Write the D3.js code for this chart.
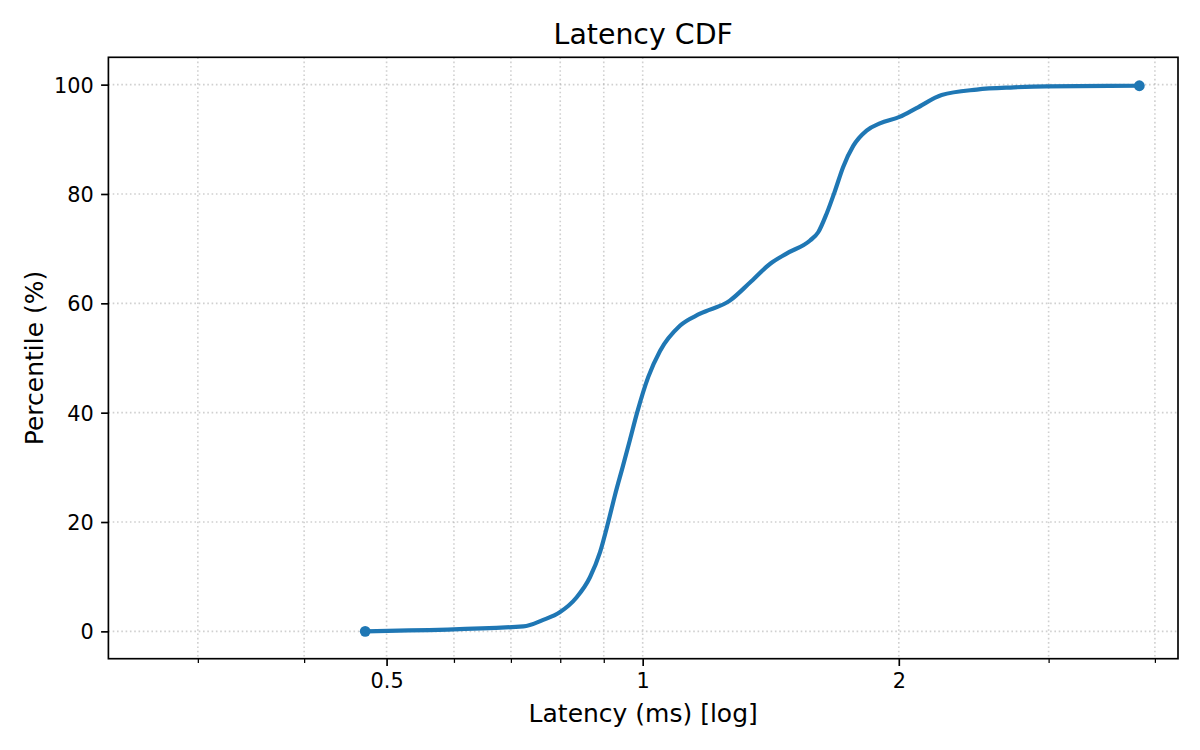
<!DOCTYPE html>
<html>
<head>
<meta charset="utf-8">
<script src="https://cdn.jsdelivr.net/npm/d3@7"></script>
<style>
  html, body { margin: 0; padding: 0; background: #fff; }
  svg { display: block; font-family: "DejaVu Sans", sans-serif; }
</style>
</head>
<body>
<svg id="chart" width="1200" height="750"></svg>
<script>
// Data: latency (ms) vs percentile (%)
const latencyMs = [0.4719, 0.724, 0.764, 0.799, 0.836, 0.867, 0.891, 0.911, 0.928, 0.947, 0.966,
  0.985, 1.015, 1.048, 1.106, 1.168, 1.266, 1.337, 1.411, 1.476, 1.573, 1.608, 1.645, 1.683,
  1.720, 1.768, 1.833, 1.900, 2.004, 2.098, 2.246, 2.47, 2.73, 2.985, 3.835];
const percentile = [0, 0.9, 2.1, 3.5, 6.2, 9.9, 14.5, 20.0, 25.0, 30.0, 35.0,
  40.0, 46.5, 51.3, 55.9, 58.1, 60.5, 63.8, 67.2, 69.1, 71.5, 73.0, 76.4, 80.6,
  84.9, 88.8, 91.6, 92.9, 94.1, 95.7, 98.1, 99.1, 99.5, 99.7, 99.8];
const xMajorTicks = [0.5, 1, 2];
const xMinorTicks = [0.3, 0.4, 0.6, 0.7, 0.8, 0.9, 3, 4];
const yTicks = [0, 20, 40, 60, 80, 100];
const xDomain = [0.2355, 4.258];
const yDomain = [-5, 105];

const title = "Latency CDF";
const xLabel = "Latency (ms) [log]";
const yLabel = "Percentile (%)";

const svg = d3.select("#chart");
const L = 108.4, R = 1178, T = 57.3, B = 658.7;
const W = R - L, H = B - T;

const x = d3.scaleLog().domain(xDomain).range([L, R]);
const y = d3.scaleLinear().domain(yDomain).range([B, T]);

const data = latencyMs.map((v, i) => ({ x: v, y: percentile[i] }));

// grid
const gridStyle = g => g.attr("stroke", "#b0b0b0").attr("stroke-opacity", 0.6)
  .attr("stroke-width", 1.6).attr("stroke-dasharray", "1.6,2.7").attr("fill", "none");
const grid = svg.append("g");
grid.selectAll("line.vx").data(xMajorTicks.concat(xMinorTicks)).join("line")
  .attr("class", "vx")
  .attr("x1", d => x(d)).attr("x2", d => x(d)).attr("y1", T).attr("y2", B)
  .call(gridStyle);
grid.selectAll("line.hy").data(yTicks).join("line")
  .attr("class", "hy")
  .attr("x1", L).attr("x2", R).attr("y1", d => y(d)).attr("y2", d => y(d))
  .call(gridStyle);

// line
const line = d3.line().x(d => x(d.x)).y(d => y(d.y)).curve(d3.curveMonotoneX);
svg.append("path").datum(data)
  .attr("d", line)
  .attr("fill", "none")
  .attr("stroke", "#1f77b4")
  .attr("stroke-width", 4.2)
  .attr("stroke-linejoin", "round")
  .attr("stroke-linecap", "butt");

// end markers
svg.selectAll("circle.end").data([data[0], data[data.length - 1]]).join("circle")
  .attr("class", "end")
  .attr("cx", d => x(d.x)).attr("cy", d => y(d.y)).attr("r", 5.4)
  .attr("fill", "#1f77b4");

// axes
const xAxis = d3.axisBottom(x).tickValues(xMajorTicks).tickFormat(d3.format("~g"))
  .tickSize(7.3).tickPadding(7.3);
const gx = svg.append("g").attr("transform", `translate(0,${B})`).call(xAxis);
gx.select(".domain").remove();
gx.selectAll(".tick line").attr("stroke", "#000").attr("stroke-width", 1.67);
gx.selectAll(".tick text").attr("font-size", 20.8).attr("fill", "#000")
  .attr("font-family", "DejaVu Sans");

const xAxisMinor = d3.axisBottom(x).tickValues(xMinorTicks).tickFormat("")
  .tickSize(4.2);
const gxm = svg.append("g").attr("transform", `translate(0,${B})`).call(xAxisMinor);
gxm.select(".domain").remove();
gxm.selectAll(".tick line").attr("stroke", "#000").attr("stroke-width", 1.25);

const yAxis = d3.axisLeft(y).tickValues(yTicks).tickSize(7.3).tickPadding(7.3);
const gy = svg.append("g").attr("transform", `translate(${L},0)`).call(yAxis);
gy.select(".domain").remove();
gy.selectAll(".tick line").attr("stroke", "#000").attr("stroke-width", 1.67);
gy.selectAll(".tick text").attr("font-size", 20.8).attr("fill", "#000")
  .attr("font-family", "DejaVu Sans").attr("dy", "0.36em");

// frame
svg.append("rect").attr("x", L).attr("y", T).attr("width", W).attr("height", H)
  .attr("fill", "none").attr("stroke", "#000").attr("stroke-width", 1.67)
  .attr("stroke-linejoin", "miter");

// texts
svg.append("text").attr("x", (L + R) / 2).attr("y", 44.3).attr("text-anchor", "middle")
  .attr("font-size", 28.4).attr("fill", "#000").text(title);
svg.append("text").attr("x", (L + R) / 2).attr("y", 722).attr("text-anchor", "middle")
  .attr("font-size", 25).attr("fill", "#000").text(xLabel);
svg.append("text").attr("transform", `translate(42.7,${(T + B) / 2}) rotate(-90)`)
  .attr("text-anchor", "middle").attr("font-size", 25).attr("fill", "#000").text(yLabel);
</script>
</body>
</html>
